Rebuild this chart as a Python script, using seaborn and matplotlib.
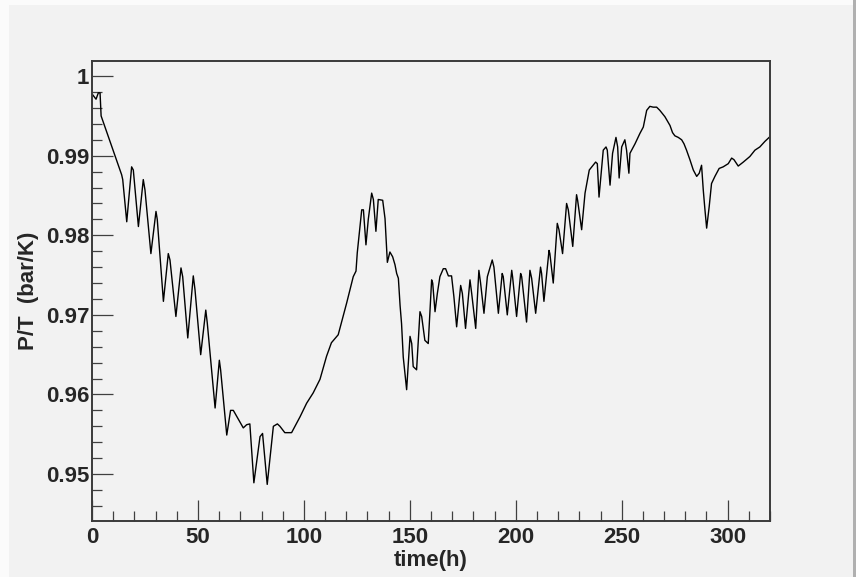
import numpy as np
import pandas as pd
import matplotlib
matplotlib.use("Agg")
import matplotlib.pyplot as plt
from matplotlib.ticker import MultipleLocator, FuncFormatter
from matplotlib.patches import Rectangle
import seaborn as sns

# ---- data ----
time_h = [0.2, 1.9, 3.0, 3.8, 4.3, 14.0, 14.5, 16.4, 18.7, 19.5, 21.9, 24.2, 25.0,
          27.8, 30.2, 30.8, 33.7, 36.0, 36.8, 39.6, 42.0, 42.8, 45.2, 47.8, 48.6,
          51.3, 53.7, 54.4, 58.1, 60.1, 60.7, 63.6, 65.4, 66.7, 71.4, 73.0, 74.5,
          76.4, 79.3, 80.5, 82.7, 85.6, 87.5, 88.7, 91.0, 94.2, 98.2, 101.3, 104.4,
          107.6, 110.7, 113.0, 116.2, 120.2, 123.3, 124.6, 125.2, 127.3, 128.1,
          129.3, 130.4, 132.0, 132.8, 134.0, 135.1, 137.2, 138.3, 139.4, 140.6,
          141.9, 143.0, 143.8, 144.6, 145.4, 146.1, 146.9, 148.5, 150.1, 150.9,
          151.6, 153.2, 154.8, 155.6, 157.1, 158.7, 159.5, 160.3, 160.8, 161.9,
          163.0, 164.2, 165.8, 166.9, 168.2, 169.7, 170.8, 172.1, 174.0, 174.8,
          176.3, 178.4, 179.2, 181.1, 182.6, 183.4, 185.0, 186.6, 188.9, 189.7,
          191.8, 193.6, 194.1, 196.0, 198.1, 198.5, 200.4, 202.3, 202.8, 205.1,
          206.7, 207.5, 209.4, 211.7, 212.2, 213.3, 215.7, 216.1, 217.7, 219.6,
          220.4, 222.1, 224.0, 224.8, 226.9, 228.7, 229.2, 231.1, 232.7, 234.7,
          237.7, 238.5, 239.3, 241.3, 242.6, 243.2, 244.5, 245.7, 247.3, 248.1,
          248.8, 250.0, 251.5, 252.3, 253.4, 253.9, 256.3, 258.6, 260.2, 261.8,
          263.3, 264.9, 266.5, 268.0, 270.4, 272.8, 274.0, 275.1, 276.7, 278.3,
          279.4, 280.6, 282.2, 283.8, 285.4, 286.6, 287.7, 288.5, 289.3, 290.1,
          291.3, 292.4, 294.0, 296.0, 297.9, 300.3, 301.9, 303.0, 305.0, 307.4,
          310.5, 312.9, 315.2, 317.6, 320.4]
p_over_t = [0.9977, 0.9971, 0.9979, 0.9979, 0.9950, 0.9876, 0.9870, 0.9817, 0.9886,
            0.9882, 0.9811, 0.9870, 0.9857, 0.9777, 0.9830, 0.9820, 0.9717, 0.9777,
            0.9769, 0.9698, 0.9759, 0.9748, 0.9671, 0.9749, 0.9732, 0.9650, 0.9706,
            0.9690, 0.9583, 0.9643, 0.9631, 0.9549, 0.9580, 0.9580, 0.9558, 0.9562,
            0.9563, 0.9489, 0.9547, 0.9551, 0.9487, 0.9560, 0.9563, 0.9560, 0.9552,
            0.9552, 0.9572, 0.9589, 0.9602, 0.9619, 0.9648, 0.9665, 0.9675, 0.9715,
            0.9748, 0.9755, 0.9778, 0.9832, 0.9832, 0.9788, 0.9820, 0.9853, 0.9845,
            0.9805, 0.9845, 0.9844, 0.9821, 0.9766, 0.9779, 0.9773, 0.9763, 0.9752,
            0.9746, 0.9712, 0.9689, 0.9647, 0.9606, 0.9673, 0.9664, 0.9635, 0.9631,
            0.9704, 0.9698, 0.9668, 0.9664, 0.9704, 0.9744, 0.9740, 0.9704, 0.9727,
            0.9748, 0.9758, 0.9758, 0.9749, 0.9749, 0.9723, 0.9685, 0.9737, 0.9727,
            0.9683, 0.9744, 0.9727, 0.9683, 0.9756, 0.9740, 0.9702, 0.9748, 0.9769,
            0.9760, 0.9702, 0.9752, 0.9748, 0.9700, 0.9756, 0.9748, 0.9698, 0.9752,
            0.9748, 0.9691, 0.9756, 0.9746, 0.9702, 0.9760, 0.9752, 0.9717, 0.9781,
            0.9777, 0.9740, 0.9815, 0.9807, 0.9777, 0.9840, 0.9832, 0.9786, 0.9851,
            0.9844, 0.9807, 0.9853, 0.9882, 0.9892, 0.9890, 0.9848, 0.9907, 0.9911,
            0.9907, 0.9863, 0.9903, 0.9923, 0.9911, 0.9872, 0.9911, 0.9920, 0.9907,
            0.9878, 0.9903, 0.9915, 0.9928, 0.9936, 0.9957, 0.9962, 0.9961, 0.9961,
            0.9957, 0.9949, 0.9938, 0.9929, 0.9925, 0.9923, 0.9920, 0.9915, 0.9907,
            0.9895, 0.9882, 0.9874, 0.9878, 0.9888, 0.9857, 0.9832, 0.9809, 0.9836,
            0.9865, 0.9874, 0.9884, 0.9886, 0.9890, 0.9897, 0.9895, 0.9887, 0.9892,
            0.9899, 0.9907, 0.9911, 0.9918, 0.9925]

x_label = "time(h)"
y_label = "P/T  (bar/K)"

df = pd.DataFrame({"t": time_h, "pt": p_over_t})

sns.set_style("ticks")
plt.rcParams["font.family"] = ["Liberation Sans", "DejaVu Sans"]
plt.rcParams["font.weight"] = "bold"

bg = "#f2f2f2"
fig = plt.figure(figsize=(8.56, 5.77), dpi=100, facecolor=bg)
ax = fig.add_axes([92 / 856, 1 - 521 / 577, (770 - 92) / 856, (521 - 61) / 577])
ax.set_facecolor(bg)

sns.lineplot(data=df, x="t", y="pt", ax=ax, estimator=None, sort=False,
             color="black", linewidth=1.0)

ax.set_xlim(0, 320)
ax.set_ylim(0.9441, 1.0019)
ax.xaxis.set_major_locator(MultipleLocator(50))
ax.xaxis.set_minor_locator(MultipleLocator(10))
ax.yaxis.set_major_locator(MultipleLocator(0.01))
ax.yaxis.set_minor_locator(MultipleLocator(0.002))
ax.yaxis.set_major_formatter(FuncFormatter(lambda v, p: "%g" % round(v, 3)))
ax.xaxis.set_major_formatter(FuncFormatter(lambda v, p: "%g" % v))

tc = "#404040"
ax.tick_params(which="both", direction="in", top=False, right=False,
               color=tc, width=0.9, labelsize=16)
ax.tick_params(which="major", length=15)
ax.tick_params(which="minor", length=7.2)
ax.tick_params(axis="y", which="major", pad=2)
ax.tick_params(axis="x", which="major", pad=4)
for lab in ax.get_xticklabels() + ax.get_yticklabels():
    lab.set_fontweight("bold")

for s in ax.spines.values():
    s.set_visible(True)
    s.set_color("#3a3a3a")
    s.set_linewidth(1.4)

ax.set_xlabel(x_label, fontsize=16, fontweight="bold", labelpad=2)
ax.set_ylabel(y_label, fontsize=16, fontweight="bold", labelpad=5)

# canvas frame decorations
fig.patches.append(Rectangle((0, 0), 9 / 856, 1, transform=fig.transFigure,
                             facecolor="#fbfbfb", edgecolor="none", zorder=-1))
fig.patches.append(Rectangle((0, 1 - 5 / 577), 1, 5 / 577, transform=fig.transFigure,
                             facecolor="#fbfbfb", edgecolor="none", zorder=-1))
fig.patches.append(Rectangle((1 - 3 / 856, 0), 3 / 856, 1, transform=fig.transFigure,
                             facecolor="#b0b0b0", edgecolor="none", zorder=-1))

fig.savefig("out.png", dpi=100, facecolor=bg)
